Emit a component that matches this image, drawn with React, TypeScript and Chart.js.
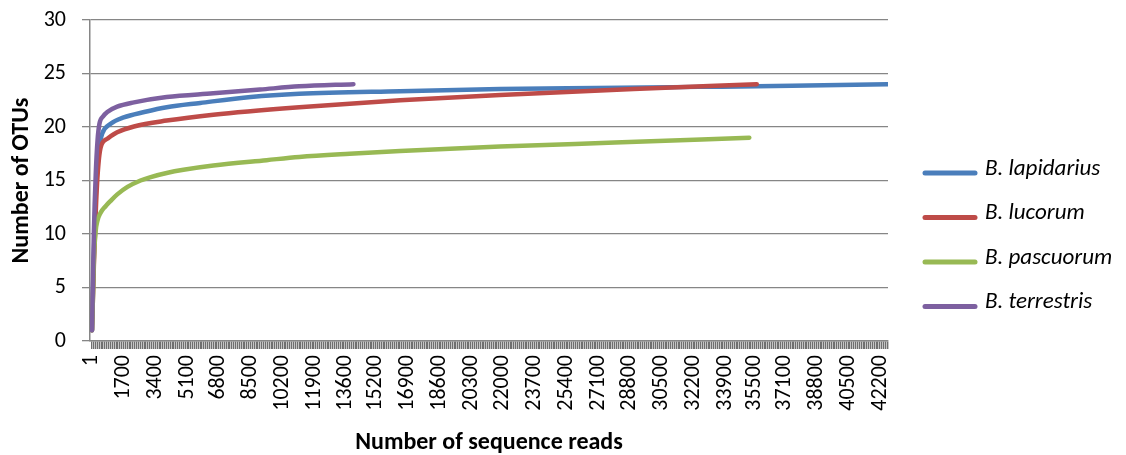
import React, { useEffect, useRef } from "react";
import { Chart, registerables } from "chart.js";

Chart.register(...registerables);

// Category labels shown under the x axis (sequence read depth)
const tickLabels = [
  1, 1700, 3400, 5100, 6800, 8500, 10200, 11900, 13600, 15200, 16900, 18600, 20300,
  22000, 23700, 25400, 27100, 28800, 30500, 32200, 33900, 35500, 37100, 38800, 40500, 42200,
];

const seriesNames = ["B. lapidarius", "B. lucorum", "B. pascuorum", "B. terrestris"];

// Rarefaction curves: reads sampled vs. OTUs observed
const lapidariusReads = [1, 100, 200, 300, 400, 550, 1000, 1700, 2800, 4000, 5800, 8500, 11100, 16500, 21850, 27000, 32500, 37500, 42600];
const lapidariusOtus = [1, 8, 13.5, 16.5, 18.3, 19.4, 20.3, 20.9, 21.4, 21.85, 22.25, 22.8, 23.1, 23.35, 23.55, 23.65, 23.75, 23.85, 24];

const lucorumReads = [1, 100, 200, 300, 465, 820, 1350, 2250, 4000, 6500, 11100, 16500, 21850, 29000, 35600];
const lucorumOtus = [1, 7, 12, 15.5, 18.1, 18.9, 19.5, 20.05, 20.6, 21.15, 21.85, 22.5, 23.0, 23.55, 24];

const pascuorumReads = [1, 50, 100, 200, 285, 465, 730, 1000, 1355, 1900, 2600, 3100, 4000, 4900, 6500, 9350, 11100, 13800, 16500, 21850, 28000, 35200];
const pascuorumOtus = [1, 4, 7.5, 10.3, 11.2, 12.0, 12.6, 13.1, 13.7, 14.4, 15.0, 15.3, 15.7, 16.0, 16.4, 16.9, 17.2, 17.5, 17.75, 18.17, 18.55, 19];

const terrestrisReads = [1, 100, 200, 300, 400, 600, 820, 1350, 2250, 4000, 6500, 9000, 11100, 14000];
const terrestrisOtus = [1, 10, 15.5, 18.8, 20.3, 21.0, 21.4, 21.9, 22.3, 22.8, 23.15, 23.5, 23.8, 24];

const seriesColors = ["#4A7EBB", "#BE4B48", "#98B954", "#7D60A0"];

const FONT = "Carlito, Lato, 'Liberation Sans', sans-serif";

function toPoints(xs: number[], ys: number[]) {
  return xs.map((x, i) => ({ x, y: ys[i] }));
}

// Legend drawn to the right of the plot, one line sample per series
const sideLegend = {
  id: "sideLegend",
  afterDraw(chart: any) {
    const { ctx } = chart;
    const area = chart.chartArea;
    ctx.save();
    chart.data.datasets.forEach((ds: any, i: number) => {
      const y = area.top + 153 + i * 44.5;
      ctx.strokeStyle = ds.borderColor;
      ctx.lineWidth = 5;
      ctx.lineCap = "round";
      ctx.beginPath();
      ctx.moveTo(area.right + 37, y);
      ctx.lineTo(area.right + 87, y);
      ctx.stroke();
      ctx.fillStyle = "#000";
      ctx.font = `italic 23px ${FONT}`;
      ctx.textAlign = "left";
      ctx.textBaseline = "middle";
      ctx.fillText(ds.label, area.right + 97, y - 4);
    });
    ctx.restore();
  },
};

export default function App() {
  const canvasRef = useRef<HTMLCanvasElement | null>(null);

  useEffect(() => {
    document.body.style.margin = "0";
    const canvas = canvasRef.current;
    if (!canvas) return;

    const readSeries = [lapidariusReads, lucorumReads, pascuorumReads, terrestrisReads];
    const otuSeries = [lapidariusOtus, lucorumOtus, pascuorumOtus, terrestrisOtus];
    const labelSet = new Set(tickLabels);
    const xMin = -106;
    const xMax = 42628;

    const chart = new Chart(canvas, {
      type: "line",
      data: {
        datasets: seriesNames.map((name, i) => ({
          label: name,
          data: toPoints(readSeries[i], otuSeries[i]),
          borderColor: seriesColors[i],
          backgroundColor: seriesColors[i],
          borderWidth: 4.5,
          borderCapStyle: "round" as const,
          borderJoinStyle: "round" as const,
          pointRadius: 0,
          cubicInterpolationMode: "monotone" as const,
          fill: false,
          order: 3 - i,
        })),
      },
      options: {
        animation: false,
        responsive: true,
        maintainAspectRatio: false,
        layout: { padding: { top: 20, right: 238, left: 0, bottom: 0 } },
        plugins: {
          legend: { display: false },
          tooltip: { enabled: false },
        },
        scales: {
          x: {
            type: "linear",
            min: xMin,
            max: xMax,
            afterBuildTicks: (scale: any) => {
              const ticks = [{ value: 1 }];
              for (let v = 100; v <= xMax; v += 100) ticks.push({ value: v });
              scale.ticks = ticks;
            },
            afterFit: (scale: any) => {
              scale.height = 114;
              scale.paddingLeft = 0;
              scale.paddingRight = 0;
            },
            grid: {
              drawOnChartArea: false,
              drawTicks: true,
              tickLength: 8,
              color: "#6f6f6f",
              lineWidth: 1.4,
            },
            border: { display: true, color: "#868686", width: 1.5 },
            ticks: {
              autoSkip: false,
              maxRotation: 90,
              minRotation: 90,
              padding: 6,
              color: "#000",
              font: { family: FONT, size: 22 },
              callback: (value: any) => (labelSet.has(Number(value)) ? String(value) : ""),
            },
            title: {
              display: true,
              text: "Number of sequence reads",
              color: "#000",
              font: { family: FONT, size: 24, weight: "bold", lineHeight: 1 },
              padding: { top: 0, bottom: 0 },
            },
          },
          y: {
            min: 0,
            max: 30,
            afterFit: (scale: any) => {
              scale.width = 90;
              scale.paddingTop = 0;
              scale.paddingBottom = 0;
            },
            grid: {
              color: "#868686",
              lineWidth: 1.3,
              drawTicks: true,
              tickLength: 8,
            },
            border: { display: true, color: "#868686", width: 1.5 },
            ticks: {
              stepSize: 5,
              padding: 16,
              color: "#000",
              font: { family: FONT, size: 22 },
            },
            title: {
              display: true,
              text: "Number of OTUs",
              color: "#000",
              font: { family: FONT, size: 24, weight: "bold", lineHeight: 1 },
              padding: { top: 10, bottom: 0 },
            },
          },
        },
      },
      plugins: [sideLegend],
    });

    return () => chart.destroy();
  }, []);

  return (
    <div style={{ position: "relative", width: "1126px", height: "455px" }}>
      <canvas ref={canvasRef} />
    </div>
  );
}
